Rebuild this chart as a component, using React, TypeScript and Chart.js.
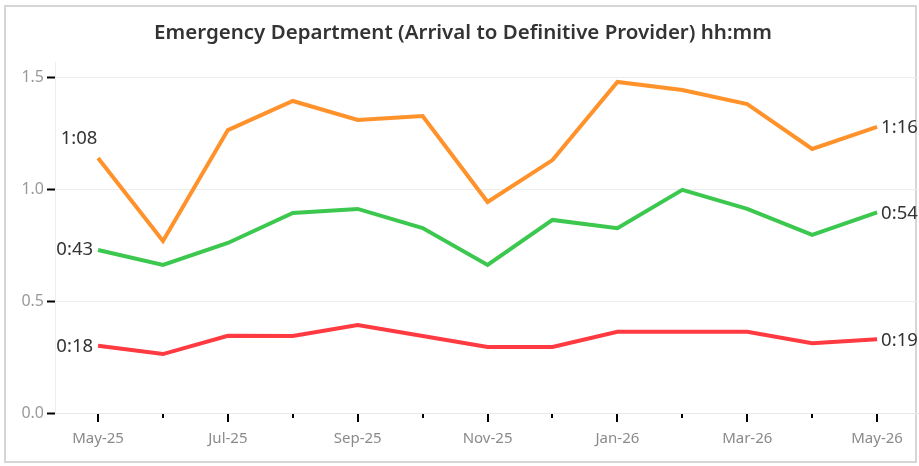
import React, { useEffect, useRef } from "react";
import { Chart, registerables } from "chart.js";

Chart.register(...registerables);

const months = ["May-25", "Jun-25", "Jul-25", "Aug-25", "Sep-25", "Oct-25", "Nov-25", "Dec-25", "Jan-26", "Feb-26", "Mar-26", "Apr-26", "May-26"];
const orangeValues = [1.138, 0.768, 1.263, 1.393, 1.308, 1.326, 0.942, 1.129, 1.478, 1.442, 1.379, 1.179, 1.277];
const greenValues = [0.728, 0.661, 0.759, 0.893, 0.911, 0.826, 0.661, 0.862, 0.825, 0.996, 0.911, 0.795, 0.896];
const redValues = [0.30, 0.263, 0.345, 0.344, 0.393, 0.344, 0.295, 0.295, 0.363, 0.363, 0.363, 0.311, 0.329];
const startLabels = ["1:08", "0:43", "0:18"];
const endLabels = ["1:16", "0:54", "0:19"];
const yTicks = [0, 0.5, 1.0, 1.5];
const titleText = "Emergency Department (Arrival to Definitive Provider) hh:mm";

const colors = ["#FF922B", "#3CC84F", "#FF3A40"];
// start-label placement per series: [dx, dy, align]
const startPlacement: [number, number, CanvasTextAlign][] = [
  [-19, -19, "center"],
  [-5, 0, "right"],
  [-5, 1, "right"],
];

const FONT = "'Noto Sans', 'Open Sans', sans-serif";

const overlayPlugin = {
  id: "overlay",
  afterDatasetsDraw(chart: any) {
    const ctx = chart.ctx;
    ctx.save();
    // labels
    ctx.font = `18.5px ${FONT}`;
    ctx.fillStyle = "#333333";
    ctx.textBaseline = "middle";
    chart.data.datasets.forEach((ds: any, i: number) => {
      const meta = chart.getDatasetMeta(i);
      const first = meta.data[0];
      const last = meta.data[meta.data.length - 1];
      const [dx, dy, align] = startPlacement[i];
      ctx.textAlign = align;
      ctx.fillText(startLabels[i], first.x + dx, first.y + dy);
      ctx.textAlign = "left";
      ctx.fillText(endLabels[i], last.x + 4, last.y + 1);
    });
    // x tick marks
    const xs = chart.scales.x;
    const bottom = chart.chartArea.bottom;
    ctx.strokeStyle = "#000";
    ctx.lineWidth = 2;
    months.forEach((_, i) => {
      const px = Math.round(xs.getPixelForValue(i));
      const len = i % 2 === 0 ? 8 : 4;
      ctx.beginPath();
      ctx.moveTo(px, bottom + 1);
      ctx.lineTo(px, bottom + 1 + len);
      ctx.stroke();
    });
    // title
    ctx.font = `600 20.5px ${FONT}`;
    ctx.fillStyle = "#333333";
    ctx.textAlign = "center";
    ctx.textBaseline = "middle";
    ctx.fillText(titleText, 463, 33);
    ctx.restore();
  },
};

export default function App() {
  const ref = useRef<HTMLCanvasElement>(null);
  useEffect(() => {
    document.body.style.margin = "0";
    const mk = (label: string, data: number[], color: string) => ({
      label,
      data: data.map((v, i) => ({ x: i, y: v })),
      borderColor: color,
      backgroundColor: color,
      borderWidth: 4,
      pointRadius: 0,
      tension: 0,
      borderJoinStyle: "miter" as const,
    });
    const chart = new Chart(ref.current!, {
      type: "line",
      data: {
        datasets: [
          mk("Series A", orangeValues, colors[0]),
          mk("Series B", greenValues, colors[1]),
          mk("Series C", redValues, colors[2]),
        ],
      },
      options: {
        animation: false,
        responsive: false,
        maintainAspectRatio: false,
        layout: { padding: { top: 62, left: 0, right: 1, bottom: 0 } },
        plugins: { legend: { display: false }, tooltip: { enabled: false }, title: { display: false } },
        scales: {
          x: {
            type: "linear",
            min: -0.663,
            max: 12.63,
            afterBuildTicks: (s: any) => {
              s.ticks = months.map((_, i) => ({ value: i }));
            },
            afterFit: (s: any) => {
              s.height = 53;
            },
            grid: { display: false },
            border: { display: true, color: "#e8e8e8", width: 1 },
            ticks: {
              autoSkip: false,
              maxRotation: 0,
              padding: 9,
              color: "#8a8a8a",
              font: { family: FONT, size: 15 },
              callback: (v: any) => {
                const i = Math.round(Number(v));
                return i % 2 === 0 ? months[i] : "";
              },
            },
          },
          y: {
            type: "linear",
            min: 0,
            max: 1.567,
            afterBuildTicks: (s: any) => {
              s.ticks = yTicks.map((v) => ({ value: v }));
            },
            afterFit: (s: any) => {
              s.width = 55;
            },
            grid: {
              color: "#ececec",
              lineWidth: 1,
              tickColor: "#000",
              tickWidth: 2,
              tickLength: 8,
            },
            border: { display: true, color: "#eeeeee", width: 1 },
            ticks: {
              padding: 3,
              color: "#999999",
              font: { family: FONT, size: 16 },
              callback: (v: any) => Number(v).toFixed(1),
            },
          },
        },
      },
      plugins: [overlayPlugin],
    });
    return () => chart.destroy();
  }, []);
  return (
    <div style={{ position: "relative", width: 919, height: 466, background: "#fff" }}>
      <div
        style={{
          position: "absolute",
          left: 4,
          top: 5,
          width: 913,
          height: 458,
          border: "2px solid #d6d6d6",
          boxSizing: "border-box",
        }}
      />
      <canvas ref={ref} width={919} height={466} style={{ position: "absolute", left: 0, top: 0 }} />
    </div>
  );
}
